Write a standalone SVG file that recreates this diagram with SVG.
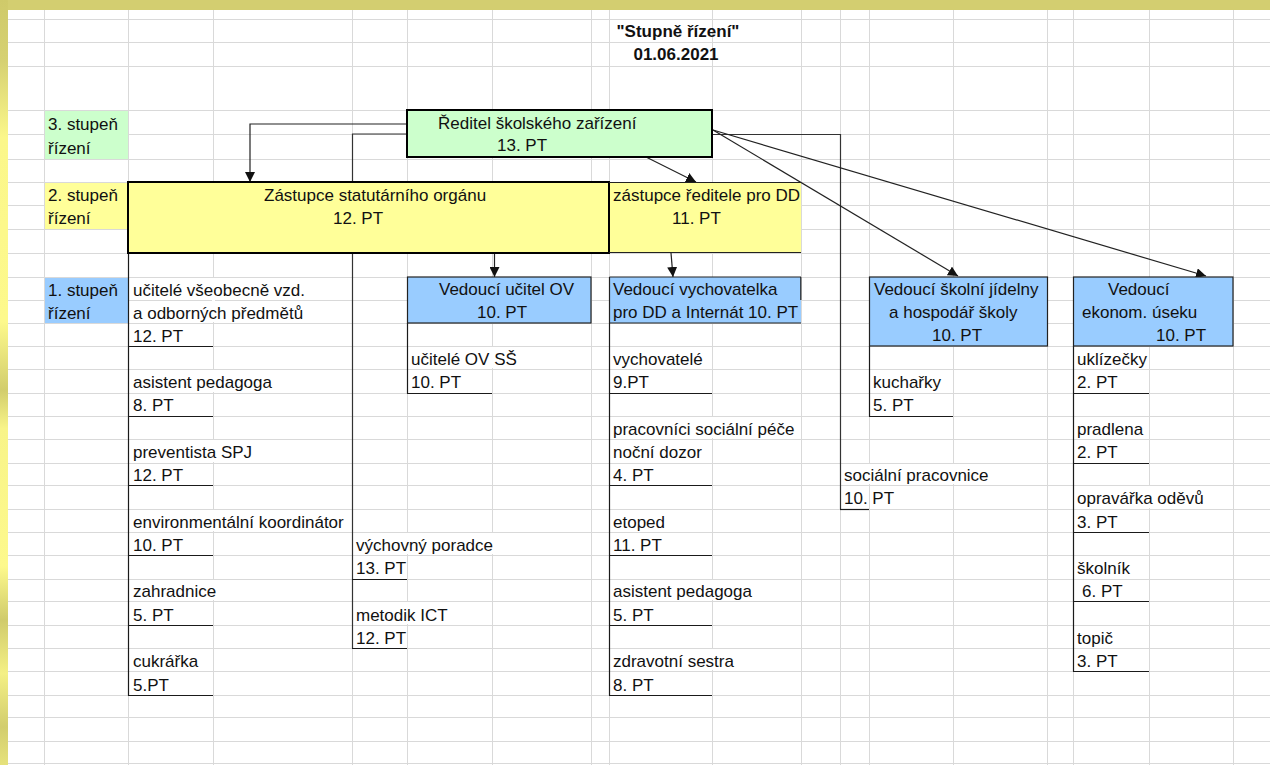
<svg xmlns="http://www.w3.org/2000/svg" width="1270" height="765" viewBox="0 0 1270 765">
<defs>
<linearGradient id="lb" x1="0" y1="0" x2="0" y2="1">
<stop offset="0" stop-color="#cfca6a"/>
<stop offset="0.08" stop-color="#d6d172"/>
<stop offset="0.18" stop-color="#fbf78a"/>
<stop offset="0.42" stop-color="#fdf98c"/>
<stop offset="0.51" stop-color="#d2cd6c"/>
<stop offset="0.56" stop-color="#f8f488"/>
<stop offset="0.74" stop-color="#fdf98c"/>
<stop offset="0.81" stop-color="#d0cb6b"/>
<stop offset="0.88" stop-color="#f4f085"/>
<stop offset="0.95" stop-color="#d2cd6d"/>
<stop offset="1" stop-color="#e6e27c"/>
</linearGradient>
<marker id="ah" markerUnits="userSpaceOnUse" markerWidth="11" markerHeight="10" refX="10" refY="5" orient="auto">
<path d="M0,0 L10,5 L0,10 z" fill="#111"/>
</marker>
<style>
.t{font-family:"Liberation Sans",Arial,sans-serif;font-size:17px;fill:#111}
.b{font-weight:bold}
.m{text-anchor:middle}
.grid{stroke:#d9d9d9;stroke-width:1;fill:none}
.gap{fill:#fff}
.cell{stroke:#1a1a1a;stroke-width:1.2;fill:none}
.conn{stroke:#333;stroke-width:1.2;fill:none}
.arr{stroke:#222;stroke-width:1.2;fill:none;marker-end:url(#ah)}
.thick{stroke:#000;stroke-width:2}
.thin{stroke:#222;stroke-width:1.2}
.green{fill:#ccffcc}
.yellow{fill:#ffff99}
.blue{fill:#99ccff}
</style>
</defs>
<rect width="1270" height="765" fill="#fff"/>
<g id="grid">
<path class="grid" d="M44.5 10V765M128.5 10V765M213.5 10V765M352.5 10V765M407.5 10V765M492.5 10V765M591.5 10V765M609.5 10V765M712.5 10V765M801.5 10V765M840.5 10V765M869.5 10V765M953.5 10V765M1047.5 10V765M1073.5 10V765M1149.5 10V765M1233.5 10V765
M8 19.5H1270M8 42.5H1270M8 66.5H1270M8 110.5H1270M8 134.5H1270M8 159.5H1270M8 182.5H1270M8 205.5H1270M8 229.5H1270M8 253.5H1270M8 277.5H1270M8 300.5H1270M8 323.5H1270M8 346.5H1270M8 369.5H1270M8 393.5H1270M8 416.5H1270M8 439.5H1270M8 463.5H1270M8 485.5H1270M8 509.5H1270M8 532.5H1270M8 555.5H1270M8 579.5H1270M8 601.5H1270M8 625.5H1270M8 648.5H1270M8 671.5H1270M8 695.5H1270M8 717.5H1270M8 741.5H1270M8 763.5H1270"/>
<g class="gap">
<rect x="212" y="278" width="3" height="44"/>
<rect x="212" y="370" width="3" height="22"/>
<rect x="212" y="440" width="3" height="22"/>
<rect x="212" y="510" width="3" height="21"/>
<rect x="212" y="580" width="3" height="20"/>
<rect x="406" y="533" width="3" height="21"/>
<rect x="491" y="533" width="3" height="21"/>
<rect x="406" y="602" width="3" height="22"/>
<rect x="491" y="347" width="3" height="21"/>
<rect x="711" y="417" width="3" height="21"/>
<rect x="711" y="580" width="3" height="20"/>
<rect x="711" y="649" width="3" height="21"/>
<rect x="868" y="464" width="3" height="20"/>
<rect x="952" y="464" width="3" height="20"/>
<rect x="1148" y="486" width="3" height="22"/>
</g>
</g>
<rect x="0" y="0" width="1270" height="10" fill="#d3ce70"/>
<rect x="0" y="0" width="8" height="765" fill="url(#lb)"/>
<g id="title">
<text class="t b m" x="678" y="37">"Stupně řízení"</text>
<text class="t b m" x="676" y="60">01.06.2021</text>
</g>
<g id="level3">
<rect class="green" x="45" y="111" width="83" height="48"/>
<text class="t" x="48" y="130">3. stupeň</text>
<text class="t" x="48" y="154">řízení</text>
</g>
<g id="level2">
<rect class="yellow" x="45" y="183" width="83" height="46"/>
<text class="t" x="48" y="201">2. stupeň</text>
<text class="t" x="48" y="224">řízení</text>
</g>
<g id="level1">
<rect class="blue" x="45" y="278" width="83" height="45"/>
<text class="t" x="48" y="296">1. stupeň</text>
<text class="t" x="48" y="319">řízení</text>
</g>
<g id="connectors">
<polyline class="arr" points="407,124 250,124 250,182"/>
<polyline class="conn" points="407,134 352.5,134 352.5,648"/>
<polyline class="conn" points="712,134.5 840.5,134.5 840.5,509"/>
<line class="arr" x1="713" y1="130" x2="1206" y2="276"/>
<line class="arr" x1="713" y1="130" x2="958" y2="276"/>
<line class="arr" x1="642" y1="155" x2="696" y2="182"/>
<line class="arr" x1="494.5" y1="253" x2="494.5" y2="277"/>
<line class="arr" x1="671" y1="253" x2="673" y2="277"/>
<line class="cell" x1="128.5" y1="253" x2="128.5" y2="695.5"/>
<line class="cell" x1="407.5" y1="323" x2="407.5" y2="393.5"/>
<line class="cell" x1="609.5" y1="323" x2="609.5" y2="695.5"/>
<line class="cell" x1="869.5" y1="346" x2="869.5" y2="416.5"/>
<line class="cell" x1="1073.5" y1="346" x2="1073.5" y2="671.5"/>
</g>
<g id="reditel">
<rect class="green thick" x="407" y="110" width="305" height="47"/>
<text class="t" x="438" y="129">Ředitel školského zařízení</text>
<text class="t" x="497" y="151">13. PT</text>
</g>
<g id="zastupce-statutarniho">
<rect class="yellow thick" x="128" y="182" width="481" height="71"/>
<text class="t" x="264" y="201">Zástupce statutárního orgánu</text>
<text class="t" x="333" y="224">12. PT</text>
</g>
<g id="zastupce-reditele-dd">
<rect class="yellow" x="610" y="182.5" width="191" height="70"/>
<path class="thin" d="M609 182.5H801M609 252.5H801"/>
<text class="t" x="613" y="201">zástupce ředitele pro DD</text>
<text class="t" x="672" y="224">11. PT</text>
</g>
<g id="vedouci-ucitel-ov">
<rect class="blue thin" x="407.5" y="277" width="183.5" height="46"/>
<text class="t" x="439" y="295">Vedoucí učitel OV</text>
<text class="t" x="477" y="318">10. PT</text>
</g>
<g id="vedouci-vychovatelka">
<rect class="blue" x="609.5" y="277" width="191.5" height="46"/>
<path class="thin" d="M609.5 277H801M609.5 277V323M609.5 323H801M800.8 277V300"/>
<text class="t" x="613" y="295">Vedoucí vychovatelka</text>
<text class="t" x="613" y="318">pro DD a Internát 10. PT</text>
</g>
<g id="vedouci-jidelny">
<rect class="blue thin" x="869.5" y="277" width="178" height="69"/>
<text class="t" x="874" y="295">Vedoucí školní jídelny</text>
<text class="t" x="889" y="318">a hospodář školy</text>
<text class="t" x="932" y="341">10. PT</text>
</g>
<g id="vedouci-ekonom">
<rect class="blue thin" x="1073.5" y="277" width="159.5" height="69"/>
<text class="t" x="1108" y="295">Vedoucí</text>
<text class="t" x="1082" y="318">ekonom. úseku</text>
<text class="t" x="1156" y="341">10. PT</text>
</g>
<g id="ucitele-vseobecne">
<text class="t" x="133" y="296">učitelé všeobecně vzd.</text>
<text class="t" x="133" y="319">a odborných předmětů</text>
<text class="t" x="133" y="342">12. PT</text>
<line class="cell" x1="128" y1="346.5" x2="213" y2="346.5"/>
</g>
<g id="asistent-pedagoga-1">
<text class="t" x="133" y="388">asistent pedagoga</text>
<text class="t" x="133" y="411">8. PT</text>
<line class="cell" x1="128" y1="416.5" x2="213" y2="416.5"/>
</g>
<g id="preventista">
<text class="t" x="133" y="458">preventista SPJ</text>
<text class="t" x="133" y="481">12. PT</text>
<line class="cell" x1="128" y1="485.5" x2="213" y2="485.5"/>
</g>
<g id="environmentalni">
<text class="t" x="133" y="528">environmentální koordinátor</text>
<text class="t" x="133" y="551">10. PT</text>
<line class="cell" x1="128" y1="555.5" x2="213" y2="555.5"/>
</g>
<g id="zahradnice">
<text class="t" x="133" y="597">zahradnice</text>
<text class="t" x="133" y="621">5. PT</text>
<line class="cell" x1="128" y1="625.5" x2="213" y2="625.5"/>
</g>
<g id="cukrarka">
<text class="t" x="133" y="667">cukrářka</text>
<text class="t" x="133" y="691">5.PT</text>
<line class="cell" x1="128" y1="695.5" x2="213" y2="695.5"/>
</g>
<g id="vychovny-poradce">
<text class="t" x="356" y="551">výchovný poradce</text>
<text class="t" x="356" y="574">13. PT</text>
<line class="cell" x1="352" y1="579.5" x2="407" y2="579.5"/>
</g>
<g id="metodik-ict">
<text class="t" x="356" y="621">metodik ICT</text>
<text class="t" x="356" y="644">12. PT</text>
<line class="cell" x1="352" y1="648.5" x2="407" y2="648.5"/>
</g>
<g id="ucitele-ov-ss">
<text class="t" x="411" y="365">učitelé OV SŠ</text>
<text class="t" x="411" y="388">10. PT</text>
<line class="cell" x1="407" y1="393.5" x2="492" y2="393.5"/>
</g>
<g id="vychovatele">
<text class="t" x="613" y="365">vychovatelé</text>
<text class="t" x="613" y="388">9.PT</text>
<line class="cell" x1="609" y1="393.5" x2="712" y2="393.5"/>
</g>
<g id="pracovnici-socialni-pece">
<text class="t" x="613" y="435">pracovníci sociální péče</text>
<text class="t" x="613" y="458">noční dozor</text>
<text class="t" x="613" y="481">4. PT</text>
<line class="cell" x1="609" y1="485.5" x2="712" y2="485.5"/>
</g>
<g id="etoped">
<text class="t" x="613" y="528">etoped</text>
<text class="t" x="613" y="551">11. PT</text>
<line class="cell" x1="609" y1="555.5" x2="712" y2="555.5"/>
</g>
<g id="asistent-pedagoga-2">
<text class="t" x="613" y="597">asistent pedagoga</text>
<text class="t" x="613" y="621">5. PT</text>
<line class="cell" x1="609" y1="625.5" x2="712" y2="625.5"/>
</g>
<g id="zdravotni-sestra">
<text class="t" x="613" y="667">zdravotní sestra</text>
<text class="t" x="613" y="691">8. PT</text>
<line class="cell" x1="609" y1="695.5" x2="712" y2="695.5"/>
</g>
<g id="kucharky">
<text class="t" x="873" y="388">kuchařky</text>
<text class="t" x="873" y="411">5. PT</text>
<line class="cell" x1="869" y1="416.5" x2="953" y2="416.5"/>
</g>
<g id="socialni-pracovnice">
<text class="t" x="844" y="481">sociální pracovnice</text>
<text class="t" x="844" y="504">10. PT</text>
<line class="cell" x1="840" y1="509.5" x2="869" y2="509.5"/>
</g>
<g id="uklizecky">
<text class="t" x="1077" y="365">uklízečky</text>
<text class="t" x="1077" y="388">2. PT</text>
<line class="cell" x1="1073" y1="393.5" x2="1149" y2="393.5"/>
</g>
<g id="pradlena">
<text class="t" x="1077" y="435">pradlena</text>
<text class="t" x="1077" y="458">2. PT</text>
<line class="cell" x1="1073" y1="463.5" x2="1149" y2="463.5"/>
</g>
<g id="opravarka">
<text class="t" x="1077" y="504">opravářka oděvů</text>
<text class="t" x="1077" y="528">3. PT</text>
<line class="cell" x1="1073" y1="532.5" x2="1149" y2="532.5"/>
</g>
<g id="skolnik">
<text class="t" x="1077" y="574">školník</text>
<text class="t" x="1082" y="597">6. PT</text>
<line class="cell" x1="1073" y1="601.5" x2="1149" y2="601.5"/>
</g>
<g id="topic">
<text class="t" x="1077" y="644">topič</text>
<text class="t" x="1077" y="667">3. PT</text>
<line class="cell" x1="1073" y1="671.5" x2="1149" y2="671.5"/>
</g>
</svg>
